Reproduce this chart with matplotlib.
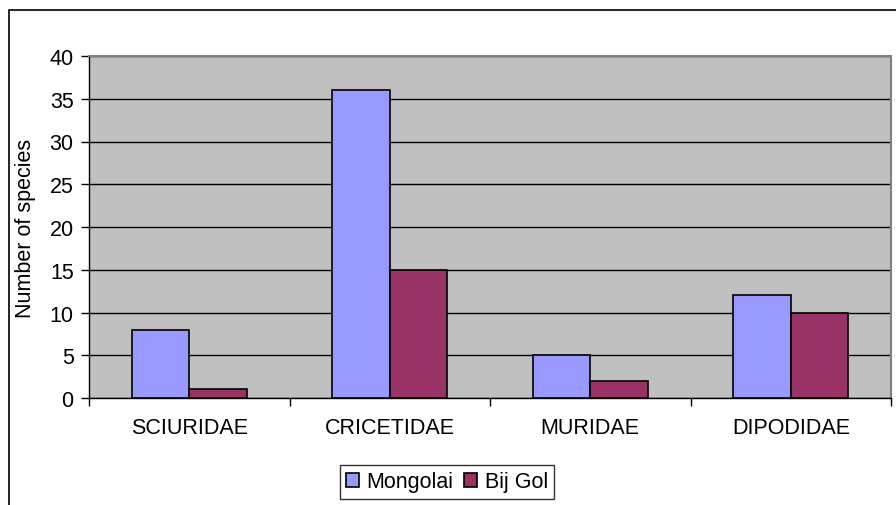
import matplotlib
matplotlib.use("Agg")
import matplotlib.pyplot as plt
from matplotlib.patches import Rectangle, Patch
import numpy as np

plt.rcParams['font.family'] = ['Liberation Sans', 'DejaVu Sans']

categories = ["SCIURIDAE", "CRICETIDAE", "MURIDAE", "DIPODIDAE"]
series_names = ["Mongolai", "Bij Gol"]
mongolai = [8, 36, 5, 12]
bij_gol = [1, 15, 2, 10]
y_ticks = [0, 5, 10, 15, 20, 25, 30, 35, 40]
colors = ["#9999FF", "#993366"]

W, H = 896, 506
fs = 15.5
fig = plt.figure(figsize=(W / 100, H / 100), dpi=100)

# outer chart frame
fig.patches.append(Rectangle((9 / W, -0.1), 1.0, (H - 11) / H + 0.1,
                             transform=fig.transFigure, fill=False,
                             edgecolor="black", linewidth=1.2, zorder=0))

left, right, top, bottom = 89, 891, 57, 399
ax = fig.add_axes([left / W, 1 - bottom / H, (right - left) / W, (bottom - top) / H])
ax.set_facecolor("#C0C0C0")

x = np.arange(len(categories))
bw = 1 / 3.5
ax.bar(x - bw / 2, mongolai, width=bw, color=colors[0], edgecolor="black",
       linewidth=1.2, zorder=3, label=series_names[0])
ax.bar(x + bw / 2, bij_gol, width=bw, color=colors[1], edgecolor="black",
       linewidth=1.2, zorder=3, label=series_names[1])

ax.set_xlim(-0.5, len(categories) - 0.5)
ax.set_ylim(0, 40)
ax.set_yticks(y_ticks)
ax.yaxis.grid(True, color="black", linewidth=1.0, zorder=1)
ax.set_axisbelow(True)

ax.set_xticks(x)
ax.set_xticklabels(categories, fontsize=fs)
ax.tick_params(axis="x", length=0, pad=14)
ax.set_xticks(np.arange(-0.5, len(categories)), minor=True)
ax.tick_params(axis="x", which="minor", length=6, width=1, color="black", direction="out")
ax.tick_params(axis="y", labelsize=fs, length=6, width=1, direction="out", pad=5)

for s in ["top", "right"]:
    ax.spines[s].set_color("#808080")
    ax.spines[s].set_linewidth(1.5)
for s in ["left", "bottom"]:
    ax.spines[s].set_color("black")
    ax.spines[s].set_linewidth(1.0)

ax.set_ylabel("Number of species", fontsize=fs, labelpad=10)

handles = [Patch(facecolor=c, edgecolor="black", linewidth=1.2) for c in colors]
leg = fig.legend(handles, series_names, loc="center", bbox_to_anchor=(447 / W, 1 - 483 / H),
                 ncol=2, fontsize=fs, frameon=True, fancybox=False, edgecolor="black",
                 handlelength=0.6, handleheight=0.6, handletextpad=0.35, columnspacing=0.5,
                 borderpad=0.3, borderaxespad=0)
leg.get_frame().set_linewidth(1.0)

fig.savefig("out.png", dpi=100, facecolor="white")
